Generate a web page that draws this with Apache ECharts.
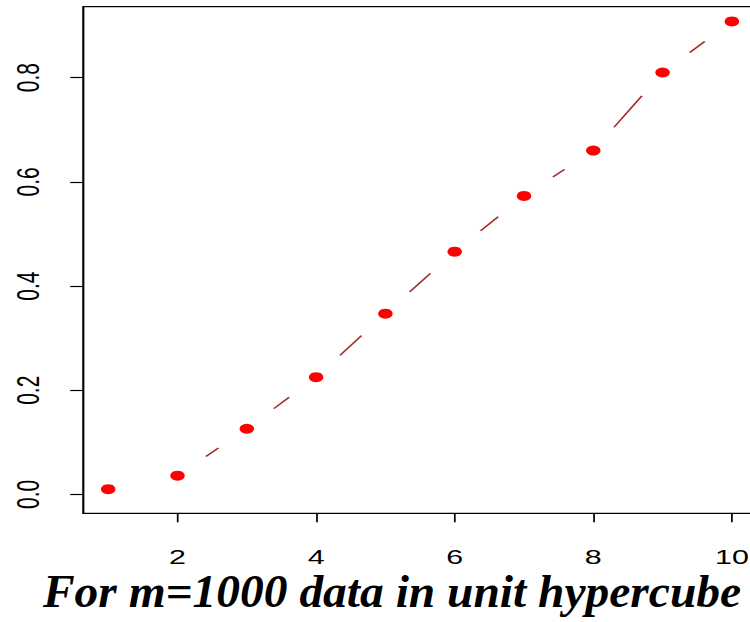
<!DOCTYPE html>
<html>
<head>
<meta charset="utf-8">
<script src="https://cdn.jsdelivr.net/npm/echarts@6/dist/echarts.min.js"></script>
<style>
  html, body { margin: 0; padding: 0; background: #ffffff; overflow: hidden; }
  #wrap { width: 750px; height: 622px; overflow: hidden; position: relative; background: #ffffff; }
  #chart { width: 540px; height: 622px; transform: scaleX(1.4507); transform-origin: 0 0; }
</style>
</head>
<body>
<div id="wrap"><div id="chart"></div></div>
<script>
// ---- data ----
const xValues = [1, 2, 3, 4, 5, 6, 7, 8, 9, 10];
const yValues = [0.010, 0.036, 0.126, 0.225, 0.347, 0.466, 0.573, 0.660, 0.810, 0.908];
const xTicks = [2, 4, 6, 8, 10];
const yTicks = [0.0, 0.2, 0.4, 0.6, 0.8];
const titleText = 'For m=1000 data in unit hypercube';

// ---- build ----
const STRETCH = 1.4507;
const points = xValues.map((x, i) => [x, yValues[i]]);
const segments = [];
for (let i = 0; i < xValues.length - 1; i++) {
  segments.push([xValues[i], yValues[i], xValues[i + 1], yValues[i + 1]]);
}
const GAP = 27.4;

const chart = echarts.init(document.getElementById('chart'), null, { renderer: 'svg' });
chart.setOption({
  backgroundColor: '#ffffff',
  animation: false,
  grid: {
    left: 57.4, top: 6.7, width: 464.3, height: 506.6,
    show: true, borderColor: '#000000', borderWidth: 1.2, backgroundColor: 'transparent'
  },
  xAxis: {
    type: 'value', min: 0.64, max: 10.36,
    axisLine: { show: true, onZero: false, lineStyle: { color: '#000', width: 1.2 } },
    axisTick: { show: true, inside: false, length: 9, customValues: xTicks, lineStyle: { color: '#000', width: 1.2 } },
    axisLabel: { show: true, customValues: xTicks, margin: 33, color: '#000', fontSize: 21, fontFamily: '"Liberation Sans", Arial, sans-serif' },
    splitLine: { show: false }
  },
  yAxis: {
    type: 'value', min: -0.0363, max: 0.9363,
    axisLine: { show: true, onZero: false, lineStyle: { color: '#000', width: 1.2 } },
    axisTick: { show: true, inside: false, length: 9, customValues: yTicks, lineStyle: { color: '#000', width: 1.2 } },
    axisLabel: { show: true, customValues: yTicks, rotate: 90, margin: 27, color: '#000', fontSize: 21,
      fontFamily: '"Liberation Sans", Arial, sans-serif', formatter: v => Number(v).toFixed(1) },
    splitLine: { show: false }
  },
  graphic: [{
    type: 'text', x: 29.6, y: 591, scaleX: 1 / STRETCH,
    style: { text: titleText, font: 'italic bold 47.5px "Liberation Serif", "Times New Roman", serif',
      fill: '#000', textAlign: 'left', textVerticalAlign: 'middle' }
  }],
  series: [
    {
      type: 'custom',
      coordinateSystem: 'cartesian2d',
      encode: { x: [0, 2], y: [1, 3] },
      data: segments,
      silent: true,
      renderItem: function (params, api) {
        const p1 = api.coord([api.value(0), api.value(1)]);
        const p2 = api.coord([api.value(2), api.value(3)]);
        const dx = p2[0] - p1[0], dy = p2[1] - p1[1];
        const d = Math.sqrt(dx * dx + dy * dy);
        if (d <= 2 * GAP) return null;
        const ux = dx / d, uy = dy / d;
        return {
          type: 'line',
          shape: { x1: p1[0] + ux * GAP, y1: p1[1] + uy * GAP, x2: p2[0] - ux * GAP, y2: p2[1] - uy * GAP },
          style: { stroke: '#A52A2A', lineWidth: 1.3 }
        };
      }
    },
    {
      type: 'scatter',
      data: points,
      symbol: 'circle',
      symbolSize: 10,
      itemStyle: { color: '#FF0000', opacity: 1 },
      silent: true
    }
  ]
});
</script>
</body>
</html>
